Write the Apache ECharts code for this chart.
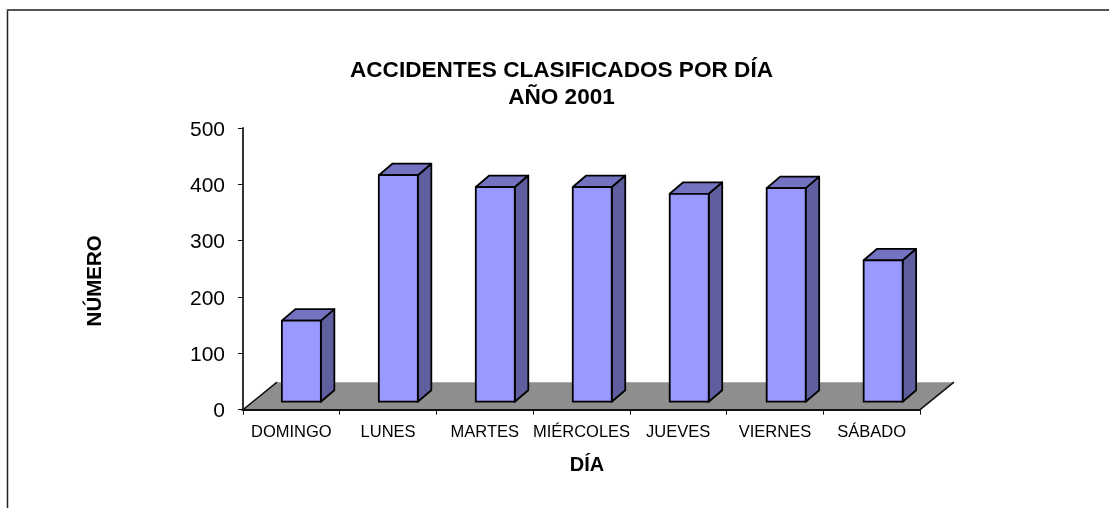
<!DOCTYPE html>
<html>
<head>
<meta charset="utf-8">
<title>Accidentes clasificados por día</title>
<script src="https://cdn.jsdelivr.net/npm/echarts@6/dist/echarts.min.js"></script>
<style>
    html, body { margin: 0; padding: 0; background: #fff; }
    #myChart { width: 1109px; height: 508px; }
</style>
</head>
<body>
<div id="myChart"></div>
<script>
const days = ['DOMINGO', 'LUNES', 'MARTES', 'MIÉRCOLES', 'JUEVES', 'VIERNES', 'SÁBADO'];
const accidents = [144, 402, 381, 381, 369, 379, 251];
const yTicks = [0, 100, 200, 300, 400, 500];

const FONT = '"Liberation Sans", Arial, sans-serif';
const myChart = echarts.init(document.getElementById('myChart'));

// el piso gris del "3D" de Excel
function renderFloor(params, api) {
    const g = params.coordSys;
    const depthX = 34, depthY = 27.5;
    const left = g.x, right = g.x + g.width, bottom = g.y + g.height;
    const edge = { stroke: '#111', lineWidth: 1.5 };
    return {
        type: 'group',
        children: [
            {
                type: 'polygon',
                shape: { points: [[left, bottom], [right, bottom], [right + depthX, bottom - depthY], [left + depthX, bottom - depthY]] },
                style: { fill: '#8e8e8e' }
            },
            { type: 'polyline', shape: { points: [[left + depthX, bottom - depthY], [left, bottom], [right, bottom], [right + depthX, bottom - depthY]] }, style: { ...edge, fill: null } }
        ]
    };
}

// cada barra: cara frontal, tapa y lado
function renderBar(params, api) {
    const top = api.coord([api.value(0), api.value(1)]);
    const base = api.coord([api.value(0), 0]);
    const w = api.size([1, 0])[0] * 0.403;
    const dx = 13.5, dy = 11.5;
    // las barras del original van un poco más separadas que las marcas del eje
    const drift = api.value(0) * 0.25;
    const x0 = base[0] + 10 + drift - w / 2, x1 = x0 + w;
    const yb = base[1] - 8, yt = top[1] - 8;
    const line = { stroke: '#000', lineWidth: 1.8, lineJoin: 'round' };
    return {
        type: 'group',
        children: [
            { type: 'polygon', shape: { points: [[x1, yt], [x1 + dx, yt - dy], [x1 + dx, yb - dy], [x1, yb]] }, style: { ...line, fill: '#5f5fa0' } },
            { type: 'polygon', shape: { points: [[x0, yt], [x0 + dx, yt - dy], [x1 + dx, yt - dy], [x1, yt]] }, style: { ...line, fill: '#7373c2' } },
            { type: 'polygon', shape: { points: [[x0, yt], [x1, yt], [x1, yb], [x0, yb]] }, style: { ...line, fill: '#9999ff' } }
        ]
    };
}

const option = {
    animation: false,
    backgroundColor: '#fff',
    title: {
        text: 'ACCIDENTES CLASIFICADOS POR DÍA\nAÑO 2001',
        left: 556.5,
        top: 52,
        textAlign: 'center',
        textStyle: { fontFamily: FONT, fontSize: 22.6, fontWeight: 'bold', color: '#000', lineHeight: 27 }
    },
    grid: { left: 243, top: 128, width: 677, height: 281.7 },
    xAxis: {
        type: 'category',
        data: days,
        name: 'DÍA',
        nameLocation: 'middle',
        nameGap: 46,
        nameTextStyle: { fontFamily: FONT, fontSize: 20, fontWeight: 'bold', color: '#000', padding: [0, 0, 0, 11] },
        axisLine: { lineStyle: { color: '#111', width: 2 } },
        axisTick: { show: true, alignWithLabel: false, length: 5, lineStyle: { color: '#111' } },
        axisLabel: { interval: 0, margin: 14, fontFamily: FONT, fontSize: 16.5, color: '#000', hideOverlap: false }
    },
    yAxis: {
        type: 'value',
        min: yTicks[0],
        max: yTicks[yTicks.length - 1],
        interval: yTicks[1] - yTicks[0],
        name: 'NÚMERO',
        nameLocation: 'middle',
        nameGap: 137,
        nameRotate: 90,
        nameTextStyle: { fontFamily: FONT, fontSize: 20.5, fontWeight: 'bold', color: '#000', padding: [0, 24, 0, 0] },
        splitLine: { show: false },
        axisLine: { show: true, lineStyle: { color: '#333', width: 2 } },
        axisTick: { show: true, length: 5, lineStyle: { color: '#111' } },
        axisLabel: { margin: 18, fontFamily: FONT, fontSize: 21, color: '#000', verticalAlign: 'top', lineHeight: 4 }
    },
    series: [
        { type: 'custom', name: 'piso', renderItem: renderFloor, data: [[0, 0]], clip: false, silent: true, z: 1 },
        {
            type: 'custom',
            name: 'Número',
            renderItem: renderBar,
            data: accidents.map((v, i) => [i, v]),
            encode: { x: 0, y: 1 },
            clip: false,
            z: 2
        }
    ],
    graphic: [
        // marco del gráfico, cortado por la derecha y por abajo
        { type: 'line', silent: true, shape: { x1: 7.5, y1: 9, x2: 7.5, y2: 508 }, style: { stroke: '#222', lineWidth: 1.5 } },
        { type: 'line', silent: true, shape: { x1: 7, y1: 10, x2: 1109, y2: 10 }, style: { stroke: '#555', lineWidth: 2 } }
    ]
};
myChart.setOption(option);

window.addEventListener('resize', myChart.resize);
</script>
</body>
</html>
